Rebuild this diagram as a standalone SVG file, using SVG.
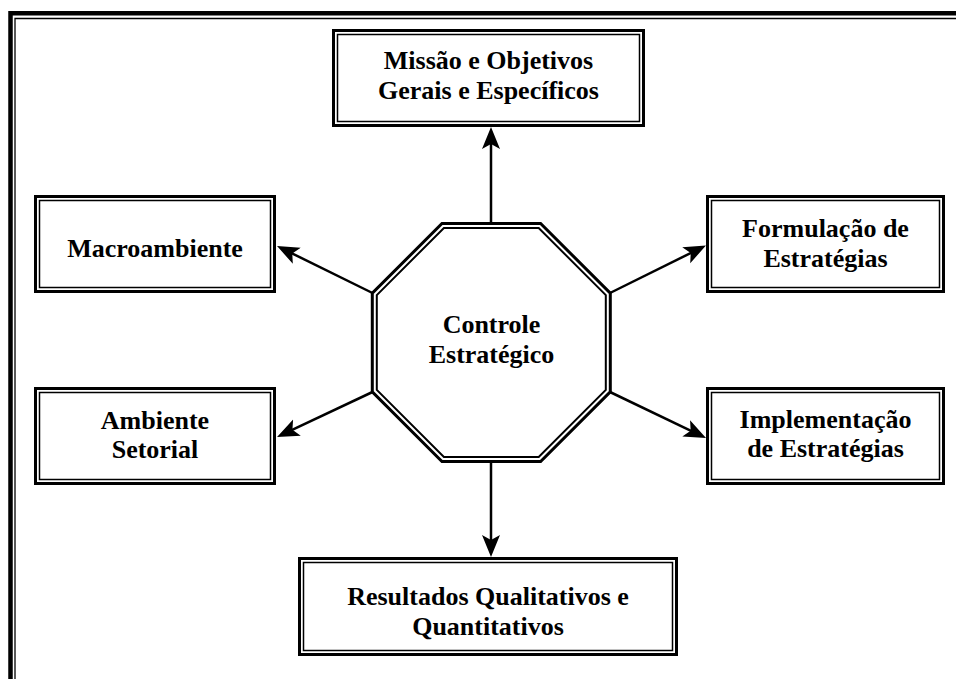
<svg xmlns="http://www.w3.org/2000/svg" width="956" height="679" viewBox="0 0 956 679">
<defs>
<style>
.outer{fill:none;stroke:#000;stroke-width:3}
.inner{fill:none;stroke:#000;stroke-width:1.5}
.lbl{font-family:"Liberation Serif","Times New Roman",serif;font-weight:bold;font-size:26px;fill:#000;text-anchor:middle}
.conn{fill:none;stroke:#000;stroke-width:2.5}
</style>
<marker id="arr" markerUnits="userSpaceOnUse" markerWidth="24" markerHeight="20" viewBox="0 0 24 20" refX="10" refY="10" orient="auto">
<path d="M0,1 L22,10 L0,19 L5,10 Z" fill="#000"/>
</marker>
</defs>
<rect width="956" height="679" fill="#fff"/>
<g id="frame">
<path d="M10.5,679 V13.25 H956" fill="none" stroke="#000" stroke-width="4.5"/>
<path d="M15,679 V18.5 H956" fill="none" stroke="#000" stroke-width="1.3"/>
</g>
<g id="connectors">
<line class="conn" x1="491" y1="223" x2="491" y2="139" marker-end="url(#arr)"/>
<line class="conn" x1="491" y1="462" x2="491" y2="545" marker-end="url(#arr)"/>
<line class="conn" x1="372.5" y1="293" x2="287.8" y2="251.3" marker-end="url(#arr)"/>
<line class="conn" x1="610" y1="293" x2="695.2" y2="250.8" marker-end="url(#arr)"/>
<line class="conn" x1="372.5" y1="392" x2="287.9" y2="431.9" marker-end="url(#arr)"/>
<line class="conn" x1="610" y1="392" x2="695.2" y2="432.8" marker-end="url(#arr)"/>
</g>
<g id="controle">
<polygon fill="#fff" stroke="#000" stroke-width="3" points="442,223.5 540.6,223.5 610.3,293.2 610.3,391.8 540.6,461.5 442,461.5 372.3,391.8 372.3,293.2"/>
<polygon fill="none" stroke="#000" stroke-width="2" points="443.9,228 538.7,228 605.8,295.1 605.8,389.9 538.7,457 443.9,457 376.8,389.9 376.8,295.1"/>
<text class="lbl" x="491.5" y="332.5">Controle</text>
<text class="lbl" x="491.5" y="362.5">Estratégico</text>
</g>
<g id="missao">
<rect class="outer" x="333.5" y="30.5" width="310" height="95" fill="#fff"/>
<rect class="inner" x="337.5" y="34.5" width="302" height="87"/>
<text class="lbl" x="488.5" y="69">Missão e Objetivos</text>
<text class="lbl" x="488.5" y="99">Gerais e Específicos</text>
</g>
<g id="macroambiente">
<rect class="outer" x="35.5" y="196.5" width="239" height="95" fill="#fff"/>
<rect class="inner" x="39.5" y="200.5" width="231" height="87"/>
<text class="lbl" x="155" y="257">Macroambiente</text>
</g>
<g id="ambiente">
<rect class="outer" x="35.5" y="388.5" width="239" height="95" fill="#fff"/>
<rect class="inner" x="39.5" y="392.5" width="231" height="87"/>
<text class="lbl" x="155" y="429">Ambiente</text>
<text class="lbl" x="155" y="458">Setorial</text>
</g>
<g id="formulacao">
<rect class="outer" x="707.5" y="196.5" width="236" height="95" fill="#fff"/>
<rect class="inner" x="711.5" y="200.5" width="228" height="87"/>
<text class="lbl" x="825.5" y="237">Formulação de</text>
<text class="lbl" x="825.5" y="267">Estratégias</text>
</g>
<g id="implementacao">
<rect class="outer" x="707.5" y="388.5" width="236" height="95" fill="#fff"/>
<rect class="inner" x="711.5" y="392.5" width="228" height="87"/>
<text class="lbl" x="825.5" y="428">Implementação</text>
<text class="lbl" x="825.5" y="457">de Estratégias</text>
</g>
<g id="resultados">
<rect class="outer" x="299.5" y="558.5" width="377" height="96" fill="#fff"/>
<rect class="inner" x="303.5" y="562.5" width="369" height="88"/>
<text class="lbl" x="488" y="605">Resultados Qualitativos e</text>
<text class="lbl" x="488" y="635">Quantitativos</text>
</g>
</svg>
